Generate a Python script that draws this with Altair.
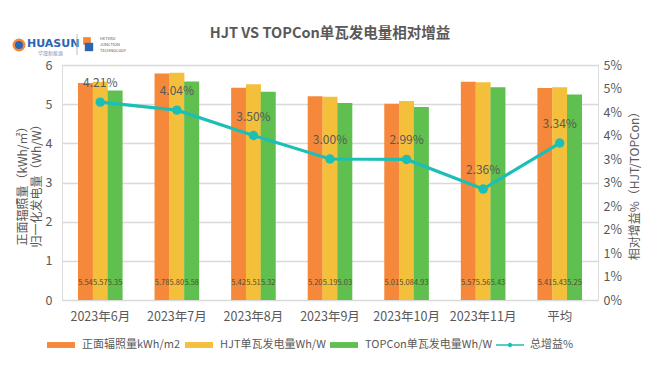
import altair as alt
import pandas as pd

months = ["2023年6月", "2023年7月", "2023年8月", "2023年9月", "2023年10月", "2023年11月", "平均"]
irradiance = [5.54, 5.78, 5.42, 5.20, 5.01, 5.57, 5.41]
hjt = [5.57, 5.80, 5.51, 5.19, 5.08, 5.56, 5.43]
topcon = [5.35, 5.58, 5.32, 5.03, 4.93, 5.43, 5.25]
gain = [4.21, 4.04, 3.50, 3.00, 2.99, 2.36, 3.34]
series = ["正面辐照量kWh/m2", "HJT单瓦发电量Wh/W", "TOPCon单瓦发电量Wh/W"]
colors = ["#F5883B", "#F4BF3B", "#5FBF4F"]
line_name = "总增益%"
line_color = "#1CBFB6"
left_ticks = [0, 1, 2, 3, 4, 5, 6]
right_ticks = [0, 0.5, 1, 1.5, 2, 2.5, 3, 3.5, 4, 4.5, 5]
title_text = "HJT VS TOPCon单瓦发电量相对增益"

FONT = "Noto Sans CJK SC"
GRAY = "#595959"

rows = []
for i, m in enumerate(months):
    for s, vals in zip(series, [irradiance, hjt, topcon]):
        rows.append({"month": m, "series": s, "value": vals[i], "label": f"{vals[i]:.2f}"})
bars_df = pd.DataFrame(rows)
line_df = pd.DataFrame({"month": months, "gain": gain,
                        "label": [f"{g:.2f}%" for g in gain], "name": line_name})

x_enc = alt.X("month:N", sort=months,
              scale=alt.Scale(paddingInner=0.42, paddingOuter=0.21),
              axis=alt.Axis(title=None, labelAngle=0, labelFontSize=12.5, labelColor=GRAY,
                            labelFont=FONT, domainColor="#D9D9D9", domainWidth=1.2,
                            ticks=False, labelPadding=10, grid=False))
xoff = alt.XOffset("series:N", sort=series, scale=alt.Scale(paddingInner=0, paddingOuter=0))

left_axis = alt.Axis(values=left_ticks, title=["正面辐照量（kWh/㎡）", "归一化发电量（Wh/W）"],
                     titleFont=FONT, titleFontSize=12, titleFontWeight="normal",
                     titleColor=GRAY, titlePadding=2, labelFont=FONT, labelFontSize=12.5,
                     labelColor=GRAY, labelPadding=10, domain=False, ticks=False,
                     labelOverlap=False, grid=True, gridColor="#D9D9D9", gridWidth=1.3)
left_scale = alt.Scale(domain=[0, 6], nice=False)

bars = alt.Chart(bars_df).mark_bar(size=15).encode(
    x=x_enc, xOffset=xoff,
    y=alt.Y("value:Q", scale=left_scale, axis=left_axis),
    color=alt.Color("series:N", sort=series,
                    scale=alt.Scale(domain=series, range=colors),
                    legend=alt.Legend(orient="none", legendX=-15, legendY=266,
                                      direction="horizontal", title=None,
                                      symbolType="M-1,-0.21H1V0.21H-1Z", symbolSize=784,
                                      symbolStrokeWidth=0, symbolOpacity=1,
                                      labelFont=FONT, labelFontSize=11, labelColor=GRAY,
                                      labelOffset=7, columnPadding=4, padding=0)),
)

bar_text = alt.Chart(bars_df).mark_text(dy=-17, fontSize=7.5, color="#4F4F30", font=FONT).encode(
    x=x_enc, xOffset=xoff,
    y=alt.Y(datum=0, scale=left_scale, axis=left_axis), text="label:N"
)

right_axis = alt.Axis(orient="right", values=right_ticks,
                      labelExpr="format(round(datum.value), 'd') + '%'",
                      title="相对增益%（HJT/TOPCon）", titleFont=FONT, titleFontSize=12,
                      titleFontWeight="normal", titleColor=GRAY, titlePadding=20,
                      titleAngle=270,
                      labelFont=FONT, labelFontSize=12.5, labelOverlap=False,
                      labelColor=GRAY, labelPadding=5, domain=False, ticks=False,
                      grid=False)
y_right = alt.Y("gain:Q", scale=alt.Scale(domain=[0, 5], nice=False), axis=right_axis)

line = alt.Chart(line_df).mark_line(color=line_color, strokeWidth=3.2).encode(
    x=x_enc, y=y_right
)
points = alt.Chart(line_df).mark_circle(size=90, opacity=1).encode(
    x=x_enc, y=y_right,
    fill=alt.Fill("name:N", scale=alt.Scale(domain=[line_name], range=[line_color]),
                  legend=alt.Legend(orient="none", legendX=434, legendY=266,
                                    direction="horizontal", title=None,
                                    symbolType="M-1,-0.06H1V0.06H-1Z M-0.16,0A0.16,0.16 0 1,1 0.16,0A0.16,0.16 0 1,1 -0.16,0Z",
                                    symbolSize=784, symbolStrokeWidth=0, symbolOpacity=1,
                                    labelFont=FONT, labelFontSize=11, labelColor=GRAY,
                                    labelOffset=6, padding=0))
)
line_text = alt.Chart(line_df).mark_text(dy=-19, fontSize=12, color=GRAY, font=FONT).encode(
    x=x_enc, y=y_right, text="label:N"
)

# title and logo decoration
deco_df = pd.DataFrame({"t": [title_text]})
deco = alt.layer(
    alt.Chart(deco_df).mark_text(font=FONT, fontSize=14.5, fontWeight="bold", color=GRAY,
                                 align="center", baseline="middle").encode(
        text="t:N", x=alt.value(268), y=alt.value(-31)),
    alt.Chart(deco_df).mark_point(shape="circle", size=110, fill="#2A66B1", stroke="#F5883B",
                                  strokeWidth=2.5, opacity=1).encode(x=alt.value(-43), y=alt.value(-20)),
    alt.Chart(deco_df).mark_text(text="HUASUN", font="DejaVu Sans", fontWeight="bold", fontSize=11,
                                 color="#2A66B1", align="left").encode(x=alt.value(-35), y=alt.value(-21)),
    alt.Chart(deco_df).mark_text(text="华晟新能源", font=FONT, fontSize=5, color="#7F8FA6",
                                 align="left").encode(x=alt.value(-24), y=alt.value(-12)),
    alt.Chart(deco_df).mark_rule(color="#BBBBBB", strokeWidth=1).encode(
        x=alt.value(15), y=alt.value(-31), y2=alt.value(-10)),
    alt.Chart(deco_df).mark_point(shape="square", size=60, fill="#F5883B", opacity=1,
                                  strokeWidth=0).encode(x=alt.value(25), y=alt.value(-24)),
    alt.Chart(deco_df).mark_point(shape="square", size=70, fill="#2A66B1", opacity=1,
                                  strokeWidth=0).encode(x=alt.value(27), y=alt.value(-18)),
    alt.Chart(deco_df).mark_text(text="HETERO", font=FONT, fontSize=4, color="#555555",
                                 align="left").encode(x=alt.value(38), y=alt.value(-26)),
    alt.Chart(deco_df).mark_text(text="JUNCTION", font=FONT, fontSize=4, color="#555555",
                                 align="left").encode(x=alt.value(38), y=alt.value(-20)),
    alt.Chart(deco_df).mark_text(text="TECHNOLOGY", font=FONT, fontSize=4, color="#555555",
                                 align="left").encode(x=alt.value(38), y=alt.value(-14)),
)

left_group = alt.layer(bars, bar_text, deco)
right_group = alt.layer(line, points, line_text)

chart = alt.layer(left_group, right_group).resolve_scale(y="independent").properties(
    width=536, height=235,
    autosize=alt.AutoSizeParams(type="none"),
    padding={"left": 54, "top": 57, "right": 55, "bottom": 57},
).configure_view(stroke=None).configure(background="white")

chart.save("out.html", embed_options={"renderer": "svg", "actions": False})
